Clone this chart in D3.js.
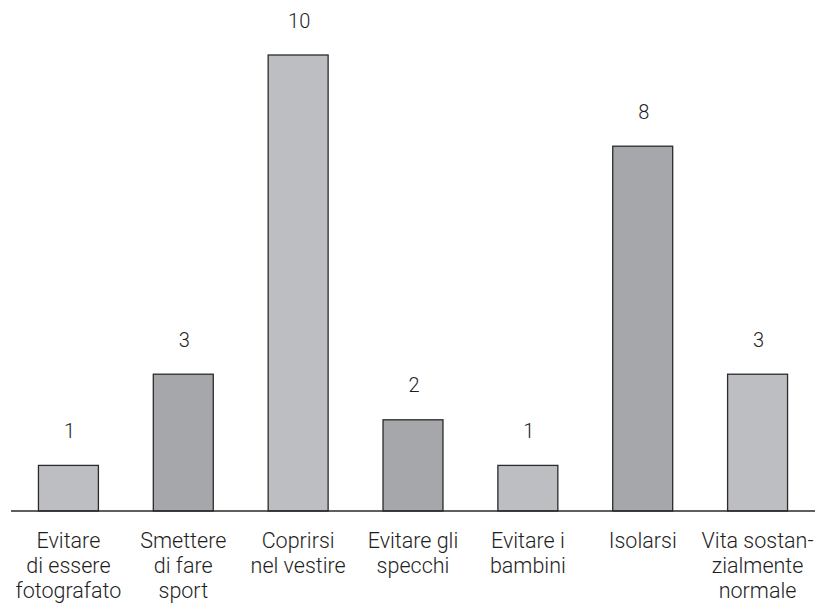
<!DOCTYPE html>
<html>
<head>
<meta charset="utf-8">
<script src="https://cdn.jsdelivr.net/npm/d3@7"></script>
<style>
  html, body { margin: 0; padding: 0; background: #fff; }
  svg { display: block; }
  text { font-family: Roboto, "Lato", sans-serif; font-weight: 300; fill: #1e1e1e; }
</style>
</head>
<body>
<svg id="chart" width="815" height="609"></svg>
<script>
// Behaviours and how many respondents named each one
const categories = [
  ["Evitare", "di essere", "fotografato"],
  ["Smettere", "di fare", "sport"],
  ["Coprirsi", "nel vestire"],
  ["Evitare gli", "specchi"],
  ["Evitare i", "bambini"],
  ["Isolarsi"],
  ["Vita sostan-", "zialmente", "normale"]
];
const values = [1, 3, 10, 2, 1, 8, 3];
const fills = ["#bdbec2", "#a6a7ab", "#bdbec2", "#a6a7ab", "#bdbec2", "#a6a7ab", "#bdbec2"];

const svg = d3.select("#chart");
const idx = d3.range(values.length);

const x = d3.scaleBand()
  .domain(idx)
  .range([11, 815])
  .paddingInner(0.478)
  .paddingOuter(0.239);

const y = d3.scaleLinear()
  .domain([0, 10])
  .range([511, 55]);

// bars
svg.append("g")
  .selectAll("rect")
  .data(idx)
  .join("rect")
  .attr("x", i => x(i))
  .attr("y", i => y(values[i]))
  .attr("width", x.bandwidth())
  .attr("height", i => y(0) - y(values[i]))
  .attr("fill", i => fills[i])
  .attr("stroke", "#2a2a2a")
  .attr("stroke-width", 1.3);

// value labels above bars
svg.append("g")
  .selectAll("text")
  .data(idx)
  .join("text")
  .attr("x", i => x(i) + x.bandwidth() / 2 + 1)
  .attr("y", i => y(values[i]) - 27.5)
  .attr("text-anchor", "middle")
  .attr("font-size", 20)
  .text(i => values[i]);

// baseline axis with category labels
const axis = svg.append("g")
  .attr("transform", `translate(0,${y(0)})`)
  .call(d3.axisBottom(x).tickSize(0).tickFormat(""));
axis.select(".domain").attr("stroke", "#2a2a2a").attr("stroke-width", 1.3)
  .attr("d", "M11,0H815");

const labels = svg.append("g")
  .selectAll("text")
  .data(idx)
  .join("text")
  .attr("x", i => x(i) + x.bandwidth() / 2)
  .attr("y", 547.5)
  .attr("text-anchor", "middle")
  .attr("font-size", 21.5);

labels.each(function(i) {
  const t = d3.select(this);
  categories[i].forEach((line, k) => {
    t.append("tspan")
      .attr("x", x(i) + x.bandwidth() / 2)
      .attr("dy", k === 0 ? 0 : 25)
      .text(line);
  });
});
</script>
</body>
</html>
